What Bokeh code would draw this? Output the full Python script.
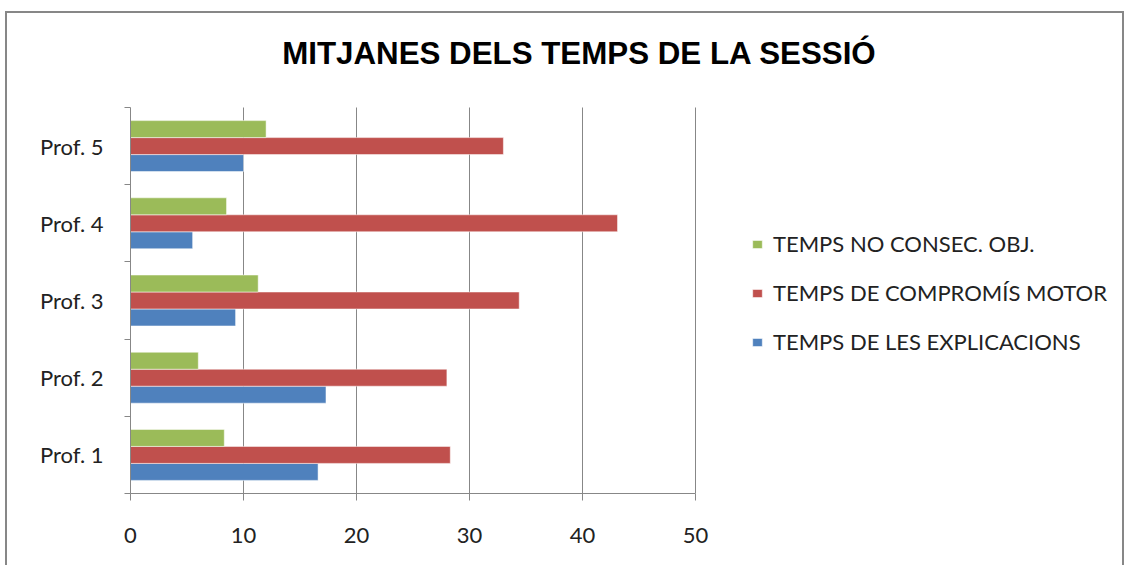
from bokeh.plotting import figure
from bokeh.models import (ColumnDataSource, FixedTicker, LinearAxis, Legend, LegendItem,
                          Range1d, Label)
from bokeh.embed import file_html
from bokeh.resources import INLINE

# ---- data ----
categories = ["Prof. 1", "Prof. 2", "Prof. 3", "Prof. 4", "Prof. 5"]
explicacions = [16.6, 17.3, 9.3, 5.5, 10.0]
compromis_motor = [28.3, 28.0, 34.4, 43.1, 33.0]
no_consec_obj = [8.3, 6.0, 11.3, 8.5, 12.0]
series_names = ["TEMPS DE LES EXPLICACIONS", "TEMPS DE COMPROMÍS MOTOR", "TEMPS NO CONSEC. OBJ."]
series_colors = ["#4F81BD", "#C0504D", "#9BBB59"]
x_ticks = [0, 10, 20, 30, 40, 50]
x_max = 50
title_text = "MITJANES DELS TEMPS DE LA SESSIÓ"

W, H = 1119, 554
MB_L, MB_R, MB_T, MB_B = 123, 4, 0, 74
# plot area of the value axis: 565 x 386 px; the frame is larger so that it
# also holds the legend (right) and the title (top)
axis_px_w, axis_px_h = 565, 386
frame_w = W - MB_L - MB_R
frame_h = H - MB_T - MB_B
n = len(categories)
x_end = x_max * frame_w / axis_px_w
y_end = n * frame_h / axis_px_h

p = figure(width=W, height=H, output_backend="svg", toolbar_location=None,
           x_range=Range1d(0, x_end), y_range=Range1d(0, y_end),
           x_axis_location=None, y_axis_location=None,
           min_border_left=MB_L, min_border_right=MB_R,
           min_border_top=MB_T, min_border_bottom=MB_B)
p.margin = (11, 0, 0, 5)
p.outline_line_color = None
p.background_fill_color = "white"
p.border_fill_color = "white"
p.styles = {"border-left": "2px solid #878787", "border-top": "2px solid #878787",
            "border-right": "2px solid #878787"}
p.xgrid.visible = False
p.ygrid.visible = False

# vertical grid lines (only over the plot area)
p.segment(x0=x_ticks[1:], x1=x_ticks[1:], y0=[0] * 5, y1=[n] * 5,
          line_color="#878787", line_width=1)

idx = list(range(n))
bw = 0.22
offsets = [-bw, 0.0, bw]
renderers = []
for vals, off, col in zip([explicacions, compromis_motor, no_consec_obj], offsets, series_colors):
    src = ColumnDataSource(dict(y=[i + 0.5 + off for i in idx], right=vals))
    r = p.hbar(y="y", left=0, right="right", height=bw, source=src,
               fill_color=col, line_color="white", line_width=1, line_alpha=0.5)
    renderers.append(r)

# x axis
xa = LinearAxis(ticker=FixedTicker(ticks=x_ticks, minor_ticks=[]), bounds=(0, x_max))
xa.axis_line_color = "#878787"
xa.major_tick_line_color = "#878787"
xa.major_tick_out = 7
xa.major_tick_in = 0
xa.major_label_standoff = 27
xa.major_label_text_font = "Lato"
xa.major_label_text_font_size = "22px"
xa.major_label_text_color = "#222222"
p.add_layout(xa, "below")

# y axis
ya = LinearAxis(ticker=FixedTicker(ticks=[i + 0.5 for i in idx], minor_ticks=list(range(n + 1))),
                bounds=(0, n))
ya.major_label_overrides = {i + 0.5: c for i, c in zip(idx, categories)}
ya.axis_line_color = "#878787"
ya.major_tick_line_color = None
ya.major_tick_out = 0
ya.major_tick_in = 0
ya.minor_tick_line_color = "#878787"
ya.minor_tick_out = 6
ya.minor_tick_in = 0
ya.major_label_standoff = 21
ya.major_label_text_font = "Lato"
ya.major_label_text_font_size = "22px"
ya.major_label_text_color = "#222222"
p.add_layout(ya, "left")

# title
title_px_x, title_px_y = 449, 54   # centre, from the plot area's left / bottom-up from its top
p.add_layout(Label(x=x_max * title_px_x / axis_px_w, y=n + n * title_px_y / axis_px_h,
                   text=title_text, text_align="center", text_baseline="middle",
                   text_font="Liberation Sans", text_font_style="bold",
                   text_font_size="31.3px", text_color="black"))

items = [LegendItem(label=series_names[k], renderers=[renderers[k]]) for k in [2, 1, 0]]
legend = Legend(items=items, location=(621, 138), border_line_color=None,
                background_fill_alpha=0, padding=0, margin=0,
                glyph_width=12, glyph_height=10, label_standoff=10, spacing=22,
                label_height=20, label_text_font="Lato", label_text_font_size="22px",
                label_text_color="#222222")
p.add_layout(legend)

open("out.html", "w").write(file_html(p, INLINE))
